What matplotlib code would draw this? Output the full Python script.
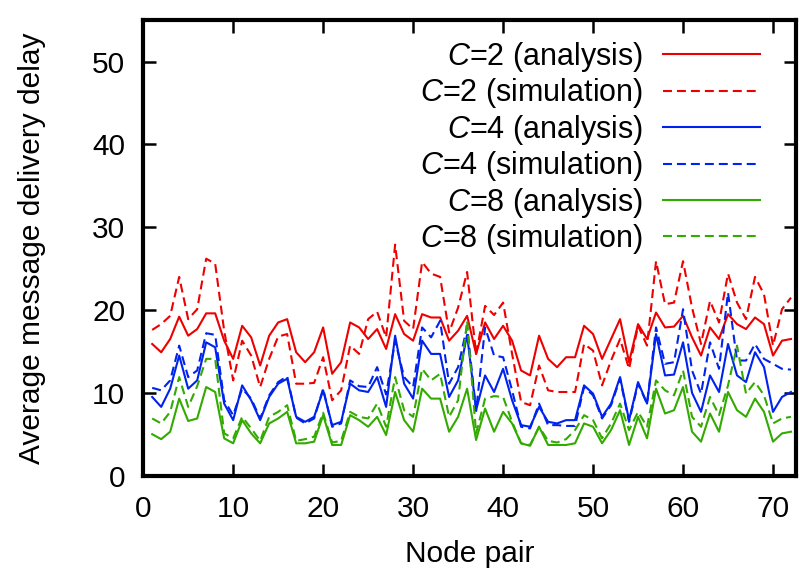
import numpy as np
import matplotlib
matplotlib.use("Agg")
import matplotlib.pyplot as plt

plt.rcParams['font.family'] = ['Liberation Sans', 'DejaVu Sans']
plt.rcParams['mathtext.fontset'] = 'custom'
plt.rcParams['mathtext.rm'] = 'Liberation Sans'
plt.rcParams['mathtext.it'] = 'Liberation Sans:italic'

# node pair index
node_pair = np.arange(1, 73)

# C=2
c2_analysis = [15.9, 14.9, 16.5, 19.2, 16.9, 17.7, 19.6, 19.6, 16.3, 14.1, 18.1, 16.7,
               13.3, 16.9, 18.5, 18.9, 14.9, 13.7, 14.9, 17.9, 12.3, 13.7, 18.5, 17.9,
               16.5, 17.7, 15.3, 19.5, 17.1, 16.3, 19.5, 19.1, 19.1, 16.3, 17.5, 19.3,
               14.7, 18.5, 16.5, 18.1, 16.3, 12.7, 12.1, 16.9, 14.1, 13.1, 14.3, 14.3,
               18.1, 17.1, 14.1, 16.5, 18.9, 13.7, 18.3, 16.5, 19.7, 17.9, 18.0, 19.3,
               16.7, 14.5, 17.9, 16.5, 19.5, 18.3, 17.7, 19.1, 18.3, 14.5, 16.3, 16.5]
c2_simulation = [17.6, 18.3, 19.3, 24.0, 18.9, 20.1, 26.2, 25.6, 17.5, 11.5, 16.3, 14.5,
                 10.7, 14.1, 16.8, 17.1, 11.1, 11.1, 11.2, 14.3, 9.1, 10.3, 15.7, 14.7,
                 18.9, 19.8, 16.7, 27.9, 18.7, 17.7, 25.8, 24.4, 24.0, 17.3, 20.3, 24.6,
                 14.7, 20.5, 19.4, 20.9, 14.7, 8.9, 8.5, 13.3, 10.3, 10.1, 10.1, 10.1,
                 15.9, 15.1, 10.9, 13.9, 16.5, 12.9, 18.1, 15.7, 25.9, 20.7, 20.9, 25.9,
                 20.3, 15.9, 21.1, 18.5, 24.4, 20.9, 18.9, 24.0, 21.9, 15.7, 20.1, 21.5]

# C=4
c4_analysis = [9.5, 8.3, 10.5, 14.5, 10.5, 11.5, 16.1, 15.5, 8.7, 6.7, 10.9, 9.1,
               6.7, 9.5, 11.1, 11.7, 7.1, 6.5, 7.1, 10.3, 6.1, 6.5, 11.1, 10.3,
               10.1, 11.9, 8.3, 16.9, 11.1, 9.3, 16.3, 14.7, 14.7, 9.5, 11.5, 17.0,
               7.9, 12.1, 10.1, 12.9, 9.1, 6.1, 5.9, 8.3, 6.5, 6.3, 6.7, 6.7,
               10.9, 9.9, 7.1, 8.7, 11.9, 6.7, 11.3, 8.7, 17.1, 12.1, 12.2, 16.1,
               10.0, 7.7, 12.1, 10.1, 15.9, 12.1, 11.3, 14.9, 13.1, 7.7, 9.5, 10.1]
c4_simulation = [10.6, 10.3, 11.5, 15.7, 11.9, 12.7, 17.2, 17.0, 9.1, 7.3, 10.5, 9.3,
                 6.9, 9.7, 11.3, 12.0, 7.0, 6.3, 6.9, 10.5, 5.9, 6.3, 11.5, 10.8,
                 10.7, 13.1, 9.8, 16.3, 11.9, 10.7, 17.9, 16.7, 18.7, 11.1, 13.1, 18.0,
                 7.8, 17.9, 14.5, 14.3, 10.3, 5.9, 5.7, 8.7, 6.1, 6.1, 6.0, 6.0,
                 10.7, 9.7, 6.9, 8.5, 11.7, 6.5, 11.1, 8.7, 17.9, 13.5, 13.7, 20.1,
                 12.7, 9.9, 16.1, 12.9, 22.1, 13.9, 13.9, 15.9, 14.1, 13.5, 12.9, 12.8]

# C=8
c8_analysis = [5.0, 4.4, 5.3, 9.3, 6.6, 6.9, 10.7, 10.1, 4.5, 3.9, 6.7, 5.1,
               3.9, 6.3, 6.9, 7.7, 3.9, 3.9, 4.1, 7.3, 3.7, 3.7, 7.3, 6.7,
               5.9, 7.1, 4.9, 10.1, 6.7, 5.3, 10.5, 9.3, 9.3, 5.3, 7.1, 10.5,
               4.3, 8.1, 5.3, 7.7, 6.3, 3.9, 3.6, 5.9, 3.7, 3.7, 3.7, 3.9,
               6.3, 5.9, 3.9, 5.5, 7.9, 3.7, 7.1, 4.5, 10.5, 7.5, 7.9, 10.7,
               5.3, 4.1, 7.5, 5.3, 10.1, 7.9, 7.1, 9.3, 7.7, 4.1, 5.1, 5.3]
c8_simulation = [6.9, 6.3, 7.7, 11.9, 8.3, 10.8, 14.1, 14.1, 5.1, 4.5, 7.1, 5.7,
                 4.2, 7.1, 7.7, 8.5, 4.2, 4.4, 4.7, 7.6, 4.0, 4.2, 7.7, 7.1,
                 6.9, 8.7, 5.9, 11.9, 7.9, 7.1, 12.9, 11.5, 12.3, 7.1, 9.1, 18.7,
                 5.1, 9.3, 9.6, 9.5, 6.5, 3.9, 3.7, 5.9, 4.2, 4.0, 4.4, 5.5,
                 7.3, 6.7, 4.5, 6.3, 8.7, 5.5, 7.7, 5.9, 11.5, 10.3, 9.7, 12.7,
                 7.1, 5.9, 9.5, 7.3, 10.9, 15.7, 9.9, 11.3, 9.7, 6.3, 6.9, 7.1]

RED = '#ee0000'
BLUE = '#0022ee'
GREEN = '#33aa00'
DASH = (0, (4.3, 2.4))
LW = 1.5
FS = 21.5

fig = plt.figure(figsize=(8, 5.8), dpi=100)
ax = fig.add_axes([0.179, 0.180, 0.8165, 0.785])

ax.plot(node_pair, c2_analysis, color=RED, lw=LW, label='$C$=2 (analysis)')
ax.plot(node_pair, c2_simulation, color=RED, lw=LW, ls=DASH, label='$C$=2 (simulation)')
ax.plot(node_pair, c4_analysis, color=BLUE, lw=LW, label='$C$=4 (analysis)')
ax.plot(node_pair, c4_simulation, color=BLUE, lw=LW, ls=DASH, label='$C$=4 (simulation)')
ax.plot(node_pair, c8_analysis, color=GREEN, lw=LW, label='$C$=8 (analysis)')
ax.plot(node_pair, c8_simulation, color=GREEN, lw=LW, ls=DASH, label='$C$=8 (simulation)')

ax.set_xlim(0, 72.6)
ax.set_ylim(0, 55)
ax.set_xticks(range(0, 71, 10))
ax.set_yticks(range(0, 51, 10))
ax.tick_params(axis='both', direction='in', length=9, width=1.8, top=True, right=True,
               labelsize=FS)
ax.tick_params(axis='x', pad=14)
ax.tick_params(axis='y', pad=13)
for s in ax.spines.values():
    s.set_linewidth(3)

ax.set_xlabel('Node pair', fontsize=FS, labelpad=12)
ax.set_ylabel('Average message delivery delay', fontsize=FS, labelpad=33)

ax.legend(loc='upper right', frameon=False, markerfirst=False, fontsize=22,
          handlelength=3.2, handletextpad=0.65, labelspacing=0.08,
          borderpad=0, borderaxespad=0, bbox_to_anchor=(0.945, 0.957))

fig.savefig('out.png', dpi=100)
